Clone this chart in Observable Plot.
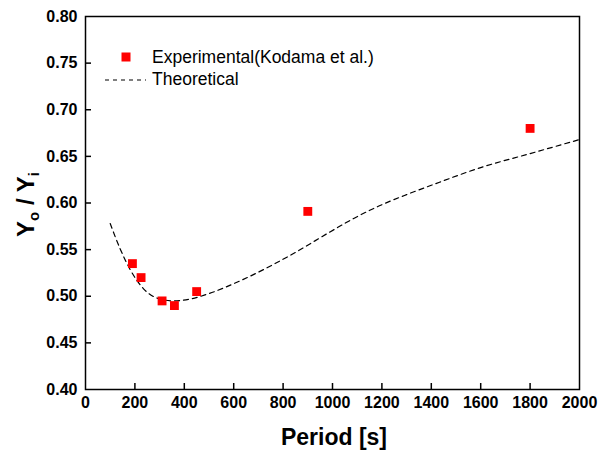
<!DOCTYPE html>
<html>
<head>
<meta charset="utf-8">
<script src="https://cdn.jsdelivr.net/npm/d3@7"></script>
<script src="https://cdn.jsdelivr.net/npm/@observablehq/plot@0.6"></script>
<style>
  html, body { margin: 0; padding: 0; background: #fff; }
  #wrap { position: relative; width: 598px; height: 450px; font-family: "Liberation Sans", Arial, sans-serif; }
</style>
</head>
<body>
<div id="wrap"></div>
<script>
// Experimental data (Kodama et al.)
const expPeriod = [190, 225, 310, 360, 450, 900, 1800];
const expRatio  = [0.535, 0.520, 0.495, 0.490, 0.505, 0.591, 0.680];

// Theoretical curve
const thPeriod = [100, 140, 180, 235, 290, 355, 425, 490, 630, 760, 850, 990, 1090, 1190, 1300, 1400, 1600, 1800, 2000];
const thRatio  = [0.578, 0.551, 0.529, 0.508, 0.498, 0.495, 0.497, 0.502, 0.517, 0.534, 0.547, 0.569, 0.584, 0.597, 0.609, 0.619, 0.638, 0.653, 0.668];

const xTicks = [0, 200, 400, 600, 800, 1000, 1200, 1400, 1600, 1800, 2000];
const yTicks = [0.40, 0.45, 0.50, 0.55, 0.60, 0.65, 0.70, 0.75, 0.80];

const legendLabels = ["Experimental(Kodama et al.)", "Theoretical"];

const expData = expPeriod.map((p, i) => ({p, r: expRatio[i]}));
const thData = thPeriod.map((p, i) => ({p, r: thRatio[i]}));

const W = 598, H = 450;
const mL = 85, mT = 16, mR = 19, mB = 61;
const innerW = W - mL - mR, innerH = H - mT - mB;

const chart = Plot.plot({
  width: W,
  height: H,
  marginLeft: mL,
  marginTop: mT,
  marginRight: mR,
  marginBottom: mB,
  style: {fontFamily: "'Liberation Sans', Arial, sans-serif", background: "#fff", color: "#000"},
  x: {domain: [0, 2000]},
  y: {domain: [0.40, 0.80]},
  marks: [
    Plot.axisX(xTicks, {tickSize: 0, tickPadding: 7, fontSize: 16, fontWeight: "bold", label: null, tickFormat: d => String(d)}),
    Plot.axisY(yTicks, {tickSize: 0, tickPadding: 8, fontSize: 16, fontWeight: "bold", label: null, tickFormat: d3.format(".2f")}),
    Plot.ruleX(xTicks.slice(1, -1), {x: d => d, insetTop: innerH - 6, stroke: "#000", strokeWidth: 1.5}),
    Plot.ruleY(yTicks.slice(1, -1), {y: d => d, insetRight: innerW - 6, stroke: "#000", strokeWidth: 1.5}),
    Plot.line(thData, {x: "p", y: "r", curve: "monotone-x", stroke: "#000", strokeWidth: 1.2, strokeDasharray: "5,4"}),
    Plot.dot(expData, {x: "p", y: "r", symbol: "square", r: 5, fill: "#f00", stroke: "none"}),
    Plot.frame({stroke: "#000", strokeWidth: 1.5})
  ]
});

const wrap = document.getElementById("wrap");
wrap.appendChild(chart);

const svg = d3.select(chart);
// X axis title
svg.append("text")
  .attr("x", mL + innerW / 2 + 2)
  .attr("y", 445)
  .attr("text-anchor", "middle")
  .attr("font-size", 23)
  .attr("font-weight", "bold")
  .attr("fill", "#000")
  .text("Period [s]");

// Y axis title with subscripts
const yt = svg.append("text")
  .attr("transform", `translate(34, ${mT + innerH / 2 + 2}) rotate(-90)`)
  .attr("text-anchor", "middle")
  .attr("font-size", 24)
  .attr("font-weight", "bold")
  .attr("fill", "#000");
yt.append("tspan").text("Y");
yt.append("tspan").attr("font-size", 15).attr("dy", 5).text("o");
yt.append("tspan").attr("dy", -5).text(" / Y");
yt.append("tspan").attr("font-size", 15).attr("dy", 5).text("i");

// Legend
const lg = svg.append("g").attr("font-size", 17.5).attr("fill", "#000").attr("text-anchor", "start");
lg.append("rect").attr("x", 121.5).attr("y", 52.5).attr("width", 9).attr("height", 9).attr("fill", "#f00");
lg.append("text").attr("x", 152).attr("y", 63).text(legendLabels[0]);
lg.append("line").attr("x1", 105).attr("x2", 146).attr("y1", 80).attr("y2", 80)
  .attr("stroke", "#000").attr("stroke-width", 1.2).attr("stroke-dasharray", "4,4");
lg.append("text").attr("x", 152).attr("y", 85).text(legendLabels[1]);
</script>
</body>
</html>
